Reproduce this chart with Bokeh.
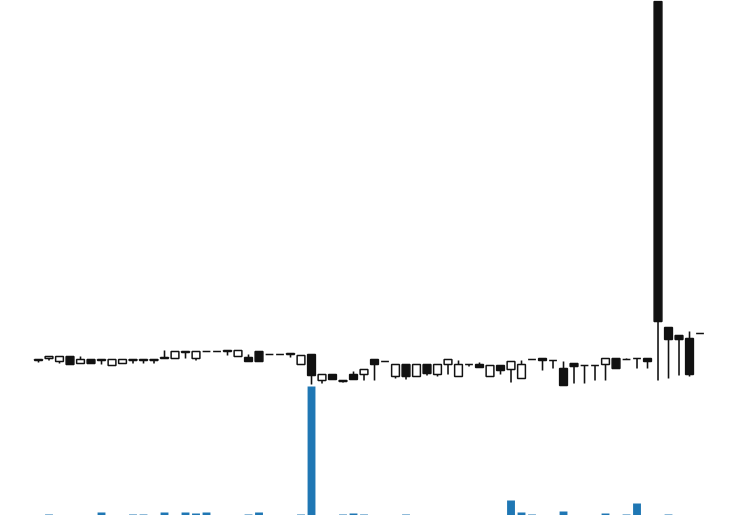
from bokeh.plotting import figure
from bokeh.models import ColumnDataSource, Range1d
from bokeh.embed import file_html
from bokeh.resources import INLINE

opens = [155, 157, 154, 159, 152, 156, 155, 150, 152, 155, 155, 155, 157, 157, 163, 157,
         164, 164, 164, 159, 158, 164, 161, 161, 161, 151, 161, 135, 141, 134, 141, 141,
         156, 154, 139, 151, 139, 151, 141, 151, 139, 151, 151, 139, 150, 146, 137, 156,
         157, 155, 147, 152, 150, 150, 151, 157, 156, 157, 157, 514, 188, 180, 177, 182]
highs = [156, 159, 159, 159, 159, 156, 156, 156, 156, 156, 156, 156, 165, 164, 164, 164,
         164, 164, 165, 165, 161, 164, 161, 161, 162, 160, 161, 141, 141, 135, 144, 146,
         156, 154, 151, 151, 151, 151, 151, 156, 155, 151, 153, 150, 150, 154, 155, 156,
         157, 155, 154, 152, 150, 150, 157, 157, 157, 157, 157, 514, 188, 180, 184, 182]
lows = [153, 155, 152, 151, 152, 152, 151, 150, 152, 152, 152, 152, 157, 157, 157, 155,
        164, 164, 160, 159, 154, 154, 161, 161, 158, 151, 131, 132, 136, 133, 136, 135,
        135, 154, 137, 136, 139, 140, 139, 141, 139, 149, 148, 139, 141, 133, 137, 156,
        145, 147, 130, 132, 132, 135, 135, 147, 156, 147, 147, 135, 137, 140, 139, 182]
closes = [156, 159, 159, 151, 156, 152, 156, 156, 156, 156, 156, 156, 158, 164, 164, 164,
          164, 164, 165, 165, 154, 154, 161, 161, 162, 160, 140, 141, 136, 135, 136, 146,
          151, 154, 151, 139, 151, 142, 151, 156, 151, 151, 148, 150, 145, 154, 151, 156,
          155, 155, 130, 149, 150, 150, 157, 147, 156, 157, 154, 194, 176, 176, 141, 182]
volumes = [0, 10000, 0, 0, 0, 0, 30000, 0, 0, 10000, 10000, 0, 30000, 0, 30000, 20000,
           30000, 0, 0, 0, 10000, 30000, 0, 0, 0, 10000, 1290000, 0, 0, 10000, 20000, 10000,
           0, 0, 0, 10000, 0, 0, 0, 0, 0, 0, 0, 0, 0, 150000, 30000, 10000,
           0, 0, 40000, 0, 0, 0, 20000, 0, 10000, 120000, 0, 0, 10000, 0, 0, 0]

n = len(opens)
idx = list(range(n))
inc = [c >= o for o, c in zip(opens, closes)]
src = ColumnDataSource(dict(
    x=idx,
    high=highs,
    low=lows,
    top=[max(o, c) for o, c in zip(opens, closes)],
    bottom=[min(o, c) for o, c in zip(opens, closes)],
    fill=["white" if i else "#111111" for i in inc],
    vol=volumes,
))

p = figure(width=737, height=515, output_backend="svg", toolbar_location=None,
           x_range=Range1d(-3.62, 66.57), y_range=Range1d(0, 515),
           min_border=0, min_border_left=0, min_border_right=0,
           min_border_top=0, min_border_bottom=0)
p.extra_y_ranges = {"vol": Range1d(0, 5150000)}
p.axis.visible = False
p.xgrid.visible = False
p.ygrid.visible = False
p.outline_line_color = None
p.background_fill_color = "white"
p.border_fill_color = "white"

p.vbar(x="x", top="vol", bottom=0, width=0.75, source=src, y_range_name="vol",
       fill_color="#1f77b4", line_color=None)
p.segment(x0="x", y0="high", x1="x", y1="low", source=src, line_color="#111111", line_width=1.6)
p.vbar(x="x", top="top", bottom="bottom", width=0.74, source=src,
       fill_color="fill", line_color="#111111", line_width=1.5)

open("out.html", "w").write(file_html(p, INLINE))
